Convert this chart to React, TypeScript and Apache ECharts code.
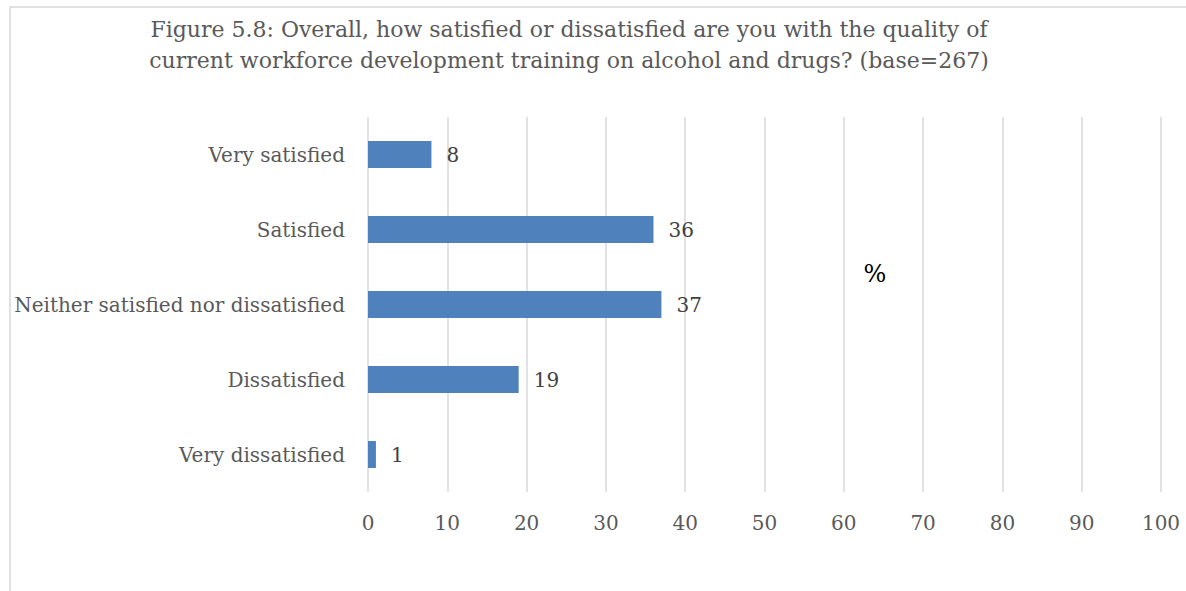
import React, { useEffect, useRef } from "react";
import * as echarts from "echarts";

const categories = [
  "Very satisfied",
  "Satisfied",
  "Neither satisfied nor dissatisfied",
  "Dissatisfied",
  "Very dissatisfied",
];
const values = [8, 36, 37, 19, 1];
const titleLines = [
  "Figure 5.8: Overall, how satisfied or dissatisfied are you with the quality of",
  "current workforce development training on alcohol and drugs? (base=267)",
];
const unitLabel = "%";

const FONT = "DejaVu Serif";

export default function App() {
  const ref = useRef<HTMLDivElement>(null);
  useEffect(() => {
    if (!ref.current) return;
    const chart = echarts.init(ref.current, null, { renderer: "svg" });
    chart.setOption({
      animation: false,
      backgroundColor: "#ffffff",
      graphic: [
        {
          type: "rect",
          shape: { x: 10, y: 7, width: 1300, height: 700 },
          style: { fill: "none", stroke: "#d9d9d9", lineWidth: 1.5 },
          silent: true,
        },
        {
          type: "text",
          x: 569,
          y: 14,
          style: {
            text: titleLines.join("\n"),
            fill: "#595959",
            font: `22px '${FONT}'`,
            align: "center",
            verticalAlign: "top",
            lineHeight: 31,
          },
        },
        {
          type: "text",
          x: 875,
          y: 274,
          style: {
            text: unitLabel,
            fill: "#000000",
            font: `24px '${FONT}'`,
            align: "center",
            verticalAlign: "middle",
          },
        },
      ],
      grid: { left: 368, right: 25, top: 117, bottom: 99, containLabel: false },
      xAxis: {
        type: "value",
        min: 0,
        max: 100,
        interval: 10,
        axisLine: { show: false },
        axisTick: { show: false },
        splitLine: { show: true, lineStyle: { color: "#d9d9d9", width: 1.5 } },
        axisLabel: {
          color: "#595959",
          fontFamily: FONT,
          fontSize: 20,
          margin: 21,
        },
      },
      yAxis: {
        type: "category",
        data: categories,
        inverse: true,
        axisLine: { show: false },
        axisTick: { show: false },
        axisLabel: {
          color: "#595959",
          fontFamily: FONT,
          fontSize: 20,
          margin: 23,
        },
      },
      series: [
        {
          type: "bar",
          data: values,
          barWidth: 27,
          itemStyle: { color: "#4f81bd" },
          label: {
            show: true,
            position: "right",
            distance: 15,
            color: "#404040",
            fontFamily: FONT,
            fontSize: 20,
          },
        },
      ],
    });
    return () => chart.dispose();
  }, []);
  return (
    <div
      ref={ref}
      style={{ position: "absolute", left: 0, top: 0, width: 1186, height: 591 }}
    />
  );
}
